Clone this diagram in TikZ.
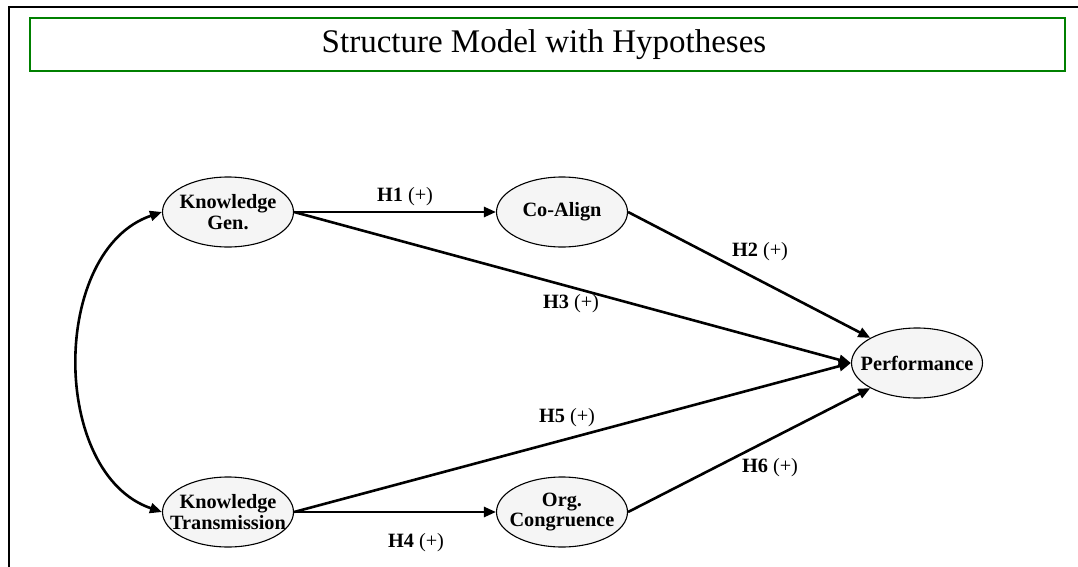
\documentclass[tikz,border=0pt]{standalone}
\usepackage{fontspec}
\setmainfont{Liberation Serif}
\usetikzlibrary{arrows.meta,shapes.geometric}
\definecolor{framegreen}{RGB}{0,128,0}
\definecolor{nodefill}{RGB}{245,245,245}
\begin{document}
\begin{tikzpicture}[x=1pt,y=-1pt,
  construct/.style={ellipse,draw=black,line width=1.1pt,fill=nodefill,
    minimum width=131pt,minimum height=70pt,inner sep=0pt},
  ctext/.style={align=center,font=\fontsize{20.3}{20.5}\selectfont\bfseries,inner sep=0pt},
  path/.style={line width=2.6pt,-{Triangle[length=12pt,width=10pt]}},
  hyp/.style={font=\fontsize{20.3}{22}\selectfont,inner sep=0pt}]
  \useasboundingbox (0,0) rectangle (1078,567);

  % page frame and title box
  \draw[line width=2pt] (9,567) -- (9,7) -- (1078,7);
  \draw[framegreen,line width=1.3pt] (30,18) rectangle (1065,71);
  \node[font=\fontsize{33}{36}\selectfont] (title) at (544,45) {Structure Model with Hypotheses};

  % constructs
  \node[construct,label={[ctext]center:Knowledge\\Gen.}] (kg) at (228,212) {};
  \node[construct,label={[ctext]center:Co-Align}] (co) at (562,212) {};
  \node[construct,label={[ctext]center:Performance}] (perf) at (917,363) {};
  \node[construct,label={[ctext]center:Knowledge\\Transmission}] (kt) at (228,512) {};
  \node[construct,label={[ctext]center:Org.\\Congruence}] (oc) at (562,512) {};

  % correlation between the knowledge constructs
  \draw[line width=2.6pt,{Triangle[length=12pt,width=10pt]}-{Triangle[length=12pt,width=10pt]}]
    (kg.west) .. controls (50,250) and (50,474) .. (kt.west);

  % hypothesised paths
  \draw[path] (kg.east) -- (co.west);
  \draw[path] (co.east) -- (perf.north west);
  \draw[path] (kg.east) -- (perf.west);
  \draw[path] (kt.east) -- (perf.west);
  \draw[path] (kt.east) -- (oc.west);
  \draw[path] (oc.east) -- (perf.south west);

  % path labels
  \node[hyp] (h1) at (405,197) {\textbf{H1} (+)};
  \node[hyp] (h2) at (760,252) {\textbf{H2} (+)};
  \node[hyp] (h3) at (571,304) {\textbf{H3} (+)};
  \node[hyp] (h5) at (567,418) {\textbf{H5} (+)};
  \node[hyp] (h6) at (770,468) {\textbf{H6} (+)};
  \node[hyp] (h4) at (416,543) {\textbf{H4} (+)};
\end{tikzpicture}
\end{document}
